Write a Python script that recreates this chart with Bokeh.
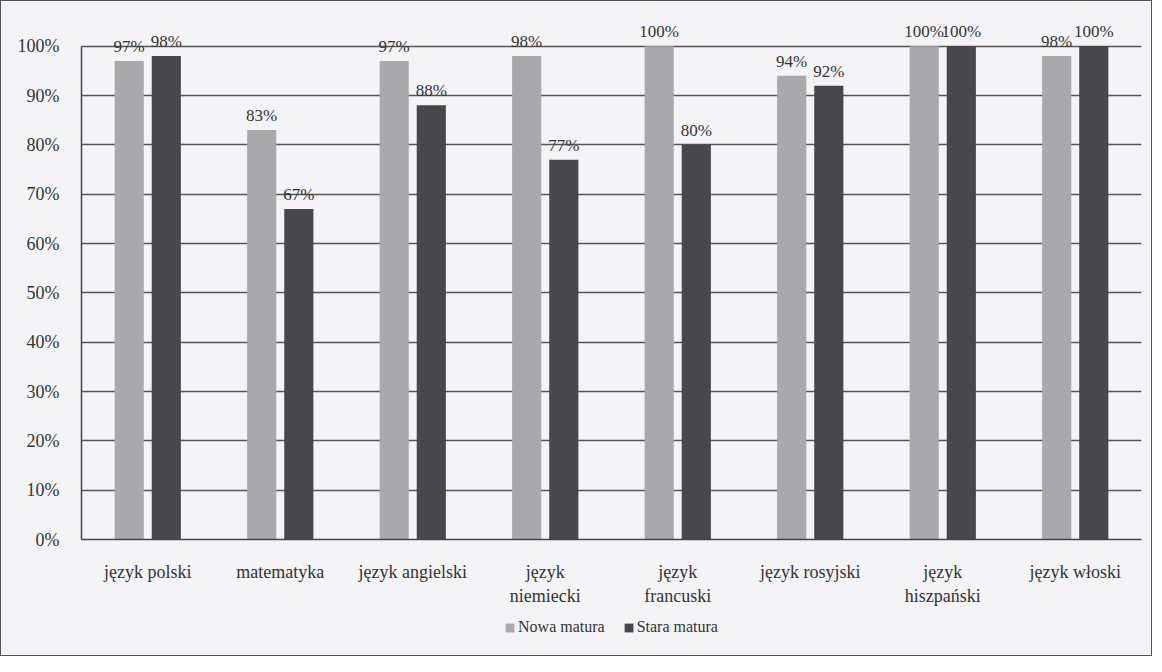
from bokeh.plotting import figure
from bokeh.layouts import column
from bokeh.models import ColumnDataSource, FactorRange, Range1d, LabelSet, Legend, LegendItem, NumeralTickFormatter, FixedTicker
from bokeh.transform import dodge
from bokeh.core.properties import value
from bokeh.embed import file_html
from bokeh.resources import INLINE

categories = ["język polski", "matematyka", "język angielski", "język\nniemiecki",
              "język\nfrancuski", "język rosyjski", "język\nhiszpański", "język włoski"]
nowa = [0.97, 0.83, 0.97, 0.98, 1.00, 0.94, 1.00, 0.98]
stara = [0.98, 0.67, 0.88, 0.77, 0.80, 0.92, 1.00, 1.00]
series_names = ["Nowa matura", "Stara matura"]
y_ticks = [0, 0.1, 0.2, 0.3, 0.4, 0.5, 0.6, 0.7, 0.8, 0.9, 1.0]

FONT = "'Liberation Serif', 'Times New Roman', serif"
BG = "#f4f4f7"
LIGHT = "#a9a9ab"
DARK = "#48474b"
TXT = "#333333"

src = ColumnDataSource(data=dict(
    cat=categories, nowa=nowa, stara=stara,
    nowa_lbl=[f"{round(v*100)}%" for v in nowa],
    stara_lbl=[f"{round(v*100)}%" for v in stara],
))

p = figure(x_range=FactorRange(*categories), y_range=Range1d(0, 1.05),
           width=1150, height=607, output_backend="svg", toolbar_location=None,
           min_border_left=80, min_border_right=10, min_border_top=20, min_border_bottom=68,
           background_fill_color=BG, border_fill_color=BG)
p.outline_line_color = None

r1 = p.vbar(x=dodge("cat", -0.14, range=p.x_range), top="nowa", width=0.22, source=src,
            fill_color=LIGHT, line_color=None)
r2 = p.vbar(x=dodge("cat", 0.14, range=p.x_range), top="stara", width=0.22, source=src,
            fill_color=DARK, line_color=None)

for col, lbl, off in (("nowa", "nowa_lbl", -0.14), ("stara", "stara_lbl", 0.14)):
    p.add_layout(LabelSet(x=dodge("cat", off, range=p.x_range), y=col, text=lbl, source=src,
                          y_offset=5, text_align="center", text_baseline="bottom",
                          text_font=value(FONT), text_font_size="17px", text_color=TXT))

p.yaxis.ticker = FixedTicker(ticks=y_ticks)
p.yaxis.formatter = NumeralTickFormatter(format="0%")
p.yaxis.bounds = (0, 1)
p.yaxis.major_label_text_font = FONT
p.yaxis.major_label_text_font_size = "18px"
p.yaxis.major_label_text_color = TXT
p.yaxis.major_label_standoff = 16
p.yaxis.axis_line_color = "#444444"
p.yaxis.axis_line_width = 1.5
p.yaxis.major_tick_line_color = None
p.yaxis.minor_tick_line_color = None

p.xaxis.major_label_text_font = FONT
p.xaxis.major_label_text_font_size = "18px"
p.xaxis.major_label_text_color = TXT
p.xaxis.major_label_standoff = 16
p.xaxis.axis_line_color = "#444444"
p.xaxis.axis_line_width = 1.5
p.xaxis.major_tick_line_color = None
p.xaxis.minor_tick_line_color = None

p.xgrid.grid_line_color = None
p.ygrid.grid_line_color = "#555555"
p.ygrid.grid_line_width = 1.3

# legend strip below the chart (its glyph renderers sit outside the visible range)
lg = figure(width=1150, height=47, output_backend="svg", toolbar_location=None,
            x_range=Range1d(0, 1), y_range=Range1d(0, 1),
            min_border=0, background_fill_color=BG, border_fill_color=BG)
lg.axis.visible = False
lg.grid.visible = False
lg.outline_line_color = None
hidden = ColumnDataSource(data=dict(x=[5], top=[5]))
g1 = lg.vbar(x="x", top="top", bottom=4, width=0.1, source=hidden, fill_color=LIGHT, line_color=None)
g2 = lg.vbar(x="x", top="top", bottom=4, width=0.1, source=hidden, fill_color=DARK, line_color=None)
legend = Legend(items=[LegendItem(label=series_names[0], renderers=[g1]),
                       LegendItem(label=series_names[1], renderers=[g2])],
                orientation="horizontal", location="top_center",
                label_text_font=FONT, label_text_font_size="16px", label_text_color=TXT,
                glyph_width=11, glyph_height=11, spacing=18, padding=0, margin=10,
                label_standoff=3, label_height=16,
                background_fill_alpha=0, border_line_color=None)
lg.add_layout(legend)

layout = column(p, lg, spacing=0, styles={"border": "1.5px solid #555", "background-color": BG})

open("out.html", "w").write(file_html(layout, INLINE))
